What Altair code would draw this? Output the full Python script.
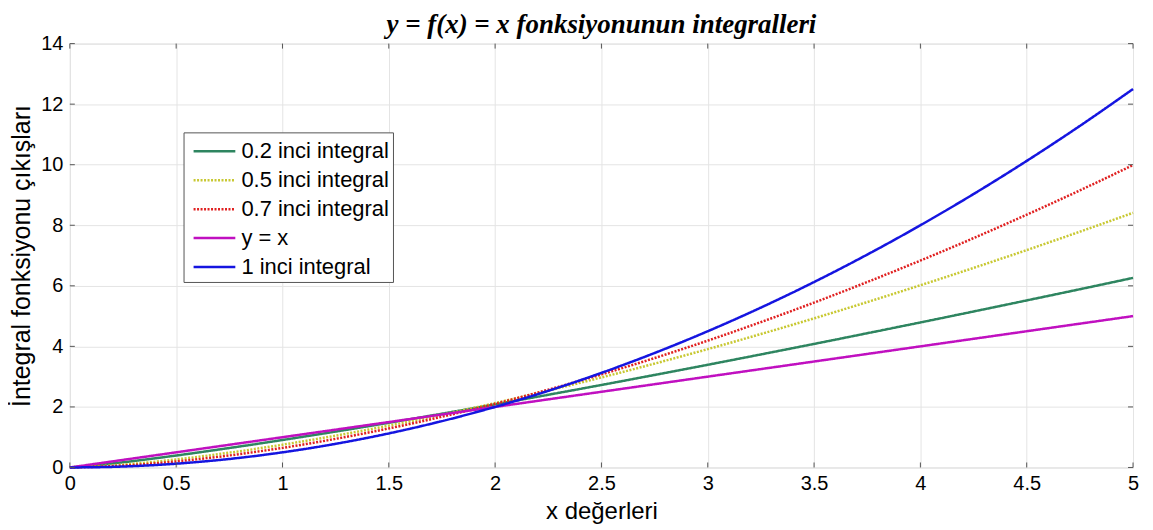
import altair as alt
import pandas as pd

x_vals = [0, 0.25, 0.5, 0.75, 1, 1.25, 1.5, 1.75, 2, 2.25, 2.5, 2.75, 3, 3.25, 3.5, 3.75, 4, 4.25, 4.5, 4.75, 5]
int_02 = [0, 0.172, 0.395, 0.643, 0.908, 1.186, 1.476, 1.776, 2.085, 2.402, 2.725, 3.056, 3.392, 3.734, 4.081, 4.434, 4.791, 5.152, 5.518, 5.887, 6.262]
int_05 = [0, 0.094, 0.266, 0.489, 0.752, 1.051, 1.382, 1.742, 2.128, 2.539, 2.974, 3.431, 3.909, 4.408, 4.926, 5.463, 6.018, 6.591, 7.181, 7.788, 8.411]
int_07 = [0, 0.061, 0.199, 0.397, 0.647, 0.946, 1.290, 1.676, 2.103, 2.569, 3.074, 3.614, 4.190, 4.802, 5.446, 6.125, 6.834, 7.575, 8.349, 9.152, 9.987]
y_eq_x = [0, 0.25, 0.5, 0.75, 1, 1.25, 1.5, 1.75, 2, 2.25, 2.5, 2.75, 3, 3.25, 3.5, 3.75, 4, 4.25, 4.5, 4.75, 5]
int_1 = [0, 0.031, 0.125, 0.281, 0.5, 0.781, 1.125, 1.531, 2, 2.531, 3.125, 3.781, 4.5, 5.281, 6.125, 7.031, 8, 9.031, 10.125, 11.281, 12.5]

series_names = ["0.2 inci integral", "0.5 inci integral", "0.7 inci integral", "y = x", "1 inci integral"]
series_vals = [int_02, int_05, int_07, y_eq_x, int_1]
series_colors = ["#2e8560", "#c8c832", "#e02020", "#c010c0", "#1515e0"]
series_dash = [[1, 0], [2, 1.5], [2, 1.5], [1, 0], [1, 0]]

x_ticks = [0, 0.5, 1, 1.5, 2, 2.5, 3, 3.5, 4, 4.5, 5]
y_ticks = [0, 2, 4, 6, 8, 10, 12, 14]

rows = []
for name, vals in zip(series_names, series_vals):
    for i, (xv, yv) in enumerate(zip(x_vals, vals)):
        rows.append({"x": xv, "y": yv, "series": name, "order": i})
df = pd.DataFrame(rows)

W, H = 1066, 425
FONT = "Liberation Sans"

xscale = alt.Scale(domain=[0, 5], nice=False, zero=False)
yscale = alt.Scale(domain=[0, 14], nice=False)

lines = alt.Chart(df).mark_line(strokeWidth=2.5, interpolate="monotone").encode(
    x=alt.X("x:Q", scale=xscale,
            axis=alt.Axis(values=x_ticks, title="x değerleri", grid=True, gridColor="#e4e4e4",
                          tickSize=0, domain=False, labelFontSize=20, labelFont=FONT,
                          labelColor="#000", labelPadding=6, titleFont=FONT, titleFontSize=24,
                          titleFontWeight="normal", titleColor="#000", titlePadding=6,
                          labelFlush=False, labelOverlap=False, labelExpr="datum.value + ''")),
    y=alt.Y("y:Q", scale=yscale,
            axis=alt.Axis(values=y_ticks, title="İntegral fonksiyonu çıkışları", grid=True,
                          gridColor="#e4e4e4", tickSize=0, domain=False, labelFontSize=20,
                          labelFont=FONT, labelColor="#000", labelPadding=7, titleFont=FONT,
                          titleFontSize=25, titleFontWeight="normal", titleColor="#000",
                          titlePadding=6, labelFlush=False, labelOverlap=False)),
    color=alt.Color("series:N", scale=alt.Scale(domain=series_names, range=series_colors),
                    legend=alt.Legend(title=None, orient="none", legendX=114, legendY=89,
                                      labelFont=FONT, labelFontSize=22, labelColor="#000",
                                      symbolType="M-1.55,0L1.55,0", symbolSize=729,
                                      symbolStrokeWidth=2.5, symbolOffset=12,
                                      strokeColor="#555", fillColor="white", padding=4,
                                      rowPadding=3, labelOffset=12, cornerRadius=0)),
    strokeDash=alt.StrokeDash("series:N", scale=alt.Scale(domain=series_names, range=series_dash),
                              legend=None),
    order="order:Q",
)

xt = pd.DataFrame({"t": x_ticks})
yt = pd.DataFrame({"t": y_ticks})
tick_style = dict(color="#555", strokeWidth=1)
xt_bottom = alt.Chart(xt).mark_rule(**tick_style).encode(
    x=alt.X("t:Q", scale=xscale), y=alt.value(H), y2=alt.value(H - 5))
xt_top = alt.Chart(xt).mark_rule(**tick_style).encode(
    x=alt.X("t:Q", scale=xscale), y=alt.value(0), y2=alt.value(5))
yt_left = alt.Chart(yt).mark_rule(**tick_style).encode(
    y=alt.Y("t:Q", scale=yscale), x=alt.value(0), x2=alt.value(5))
yt_right = alt.Chart(yt).mark_rule(**tick_style).encode(
    y=alt.Y("t:Q", scale=yscale), x=alt.value(W), x2=alt.value(W - 5))

chart = alt.layer(lines, xt_bottom, xt_top, yt_left, yt_right).properties(
    width=W, height=H,
    title=alt.Title("y = f(x) = x fonksiyonunun integralleri", font="Liberation Serif",
                    fontSize=27, fontStyle="italic", fontWeight="bold", color="#000",
                    anchor="middle", offset=-5),
    padding={"left": 62, "top": 35, "right": 12, "bottom": 64},
    autosize=alt.AutoSizeParams(type="none"),
).configure_view(stroke="#555", strokeWidth=1.2).configure(background="white")

chart.save("out.html", embed_options={"renderer": "svg", "actions": False})
